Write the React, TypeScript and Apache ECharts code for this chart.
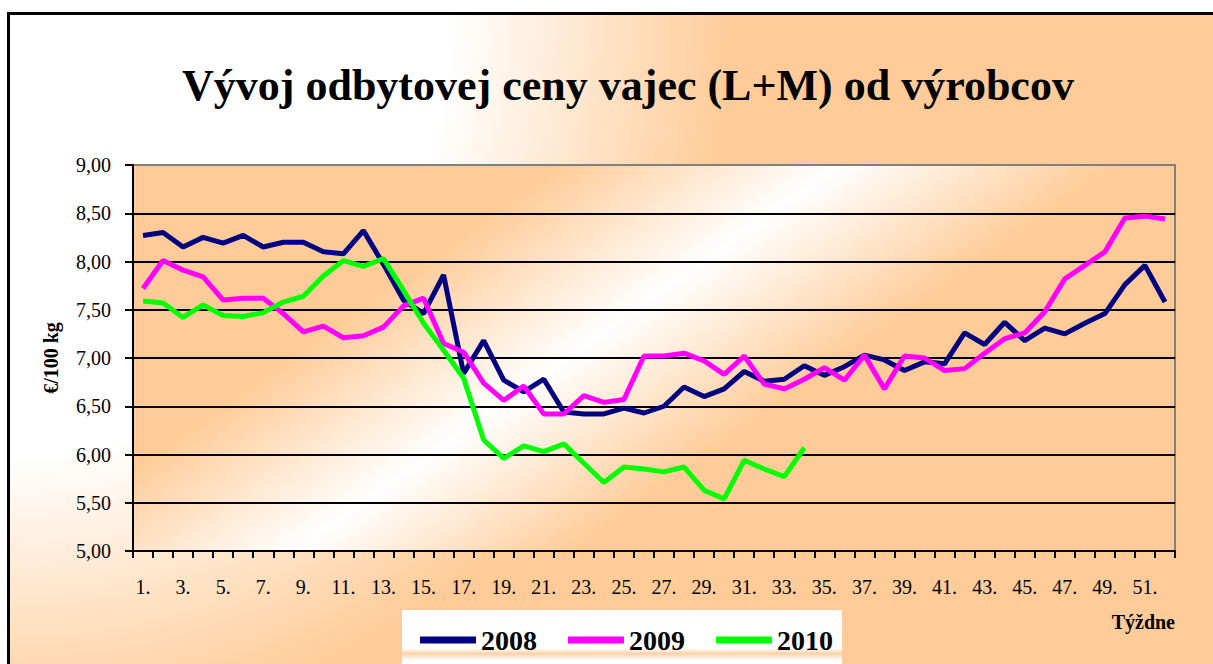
import React, { useEffect, useRef } from "react";
import * as echarts from "echarts";

const TITLE = "Vývoj odbytovej ceny vajec (L+M) od výrobcov";
const Y_NAME = "€/100 kg";
const X_NAME = "Týždne";

const weeks = [
  "1.", "2.", "3.", "4.", "5.", "6.", "7.", "8.", "9.", "10.",
  "11.", "12.", "13.", "14.", "15.", "16.", "17.", "18.", "19.", "20.",
  "21.", "22.", "23.", "24.", "25.", "26.", "27.", "28.", "29.", "30.",
  "31.", "32.", "33.", "34.", "35.", "36.", "37.", "38.", "39.", "40.",
  "41.", "42.", "43.", "44.", "45.", "46.", "47.", "48.", "49.", "50.",
  "51.", "52.",
];

const seriesNames = ["2008", "2009", "2010"];

const values2008 = [
  8.27, 8.3, 8.15, 8.25, 8.19, 8.27, 8.15, 8.2, 8.2, 8.1,
  8.08, 8.32, 7.97, 7.6, 7.46, 7.86, 6.84, 7.18, 6.77, 6.65,
  6.78, 6.44, 6.42, 6.42, 6.48, 6.43, 6.5, 6.7, 6.6, 6.68,
  6.86, 6.76, 6.78, 6.92, 6.82, 6.91, 7.03, 6.98, 6.87, 6.96,
  6.94, 7.26, 7.14, 7.37, 7.18, 7.31, 7.25, 7.36, 7.46, 7.76,
  7.96, 7.58,
];

const values2009 = [
  7.72, 8.01, 7.91, 7.84, 7.6, 7.62, 7.62, 7.46, 7.27, 7.33,
  7.21, 7.23, 7.32, 7.54, 7.62, 7.15, 7.06, 6.74, 6.56, 6.71,
  6.42, 6.42, 6.61, 6.54, 6.57, 7.02, 7.02, 7.05, 6.97, 6.83,
  7.02, 6.73, 6.68, 6.78, 6.9, 6.77, 7.03, 6.68, 7.02, 7.0,
  6.87, 6.89, 7.05, 7.2, 7.26, 7.48, 7.82, 7.96, 8.1, 8.45,
  8.47, 8.44,
];

const values2010 = [
  7.59, 7.57, 7.42, 7.55, 7.44, 7.43, 7.47, 7.58, 7.64, 7.85,
  8.01, 7.95, 8.03, 7.7, 7.36, 7.08, 6.79, 6.15, 5.96, 6.09,
  6.03, 6.11, 5.91, 5.71, 5.87, 5.85, 5.82, 5.87, 5.63, 5.54,
  5.94, 5.85, 5.77, 6.07,
];

const seriesColors = ["#000080", "#FF00FF", "#00FF00"];

const FONT = '"Liberation Serif", "Times New Roman", serif';
const ORANGE = "#FFCC99";

export default function App() {
  const ref = useRef<HTMLDivElement>(null);

  useEffect(() => {
    if (!ref.current) return;
    const chart = echarts.init(ref.current, undefined, { renderer: "svg" });

    const legendBg = new echarts.graphic.LinearGradient(0, 0, 0, 1, [
      { offset: 0, color: "#FFFFFF" },
      { offset: 0.58, color: "#FFFFFF" },
      { offset: 0.66, color: "#FDD2A8" },
      { offset: 0.76, color: "#FFFFFF" },
      { offset: 1, color: "#FFFFFF" },
    ]);

    const allValues = [values2008, values2009, values2010];

    chart.setOption({
      animation: false,
      backgroundColor: "transparent",
      title: {
        text: TITLE,
        left: 182,
        top: 63,
        padding: 0,
        textStyle: {
          fontFamily: FONT,
          fontSize: 44,
          fontWeight: "bold",
          color: "#000",
        },
      },
      legend: {
        data: seriesNames,
        left: 402,
        top: 610,
        orient: "horizontal",
        icon: "rect",
        itemWidth: 56,
        itemHeight: 7,
        itemGap: 31,
        padding: [16, 9, 22, 18],
        backgroundColor: legendBg,
        textStyle: {
          fontFamily: FONT,
          fontSize: 28,
          fontWeight: "bold",
          color: "#000",
        },
      },
      graphic: [
        {
          type: "text",
          right: 38,
          top: 612,
          style: {
            text: X_NAME,
            font: `bold 20px ${FONT}`,
            fill: "#000",
          },
        },
      ],
      grid: {
        left: 133,
        right: 38,
        top: 165,
        bottom: 113,
        show: true,
        backgroundColor: "transparent",
        borderColor: "#808080",
        borderWidth: 2,
      },
      xAxis: {
        type: "category",
        data: weeks,
        boundaryGap: true,
        axisLine: { show: true, lineStyle: { color: "#000", width: 2 } },
        axisTick: {
          show: true,
          interval: 0,
          length: 7,
          lineStyle: { color: "#000", width: 2 },
        },
        axisLabel: {
          interval: 1,
          margin: 26,
          fontFamily: FONT,
          fontSize: 20,
          color: "#000",
        },
        splitLine: { show: false },
      },
      yAxis: {
        type: "value",
        min: 5,
        max: 9,
        interval: 0.5,
        name: Y_NAME,
        nameLocation: "middle",
        nameGap: 72,
        nameTextStyle: {
          fontFamily: FONT,
          fontSize: 20,
          fontWeight: "bold",
          color: "#000",
        },
        axisLine: { show: true, lineStyle: { color: "#000", width: 2 } },
        axisTick: {
          show: true,
          length: 8,
          lineStyle: { color: "#000", width: 2 },
        },
        axisLabel: {
          margin: 22,
          fontFamily: FONT,
          fontSize: 20,
          color: "#000",
          formatter: (v: number) => v.toFixed(2).replace(".", ","),
        },
        splitLine: {
          show: true,
          lineStyle: {
            color: [
              "#000", "#000", "#000", "#000", "#000",
              "#000", "#000", "#000", "#808080",
            ],
            width: 2,
          },
        },
      },
      series: seriesNames.map((name, i) => ({
        name,
        type: "line",
        data: allValues[i],
        showSymbol: false,
        symbol: "none",
        color: seriesColors[i],
        lineStyle: { color: seriesColors[i], width: 5 },
        emphasis: { disabled: true },
      })),
    });

    return () => chart.dispose();
  }, []);

  return (
    <div
      style={{
        position: "fixed",
        left: 0,
        top: 0,
        width: 1213,
        height: 664,
        overflow: "hidden",
        background: "#fff",
      }}
    >
      <div
        style={{
          position: "absolute",
          left: 7,
          top: 12,
          width: 1300,
          height: 800,
          border: "3px solid #000",
          background: `radial-gradient(circle at 0px 0px, #ffffff 0px, #ffffff 440px, ${ORANGE} 720px)`,
        }}
      />
      <div
        style={{
          position: "absolute",
          left: 133,
          top: 165,
          width: 1042,
          height: 386,
          background: `linear-gradient(144.7deg, ${ORANGE} 0%, ${ORANGE} 27%, #ffffff 44.5%, ${ORANGE} 62%, ${ORANGE} 100%)`,
        }}
      />
      <div
        ref={ref}
        style={{ position: "absolute", left: 0, top: 0, width: 1213, height: 664 }}
      />
    </div>
  );
}
